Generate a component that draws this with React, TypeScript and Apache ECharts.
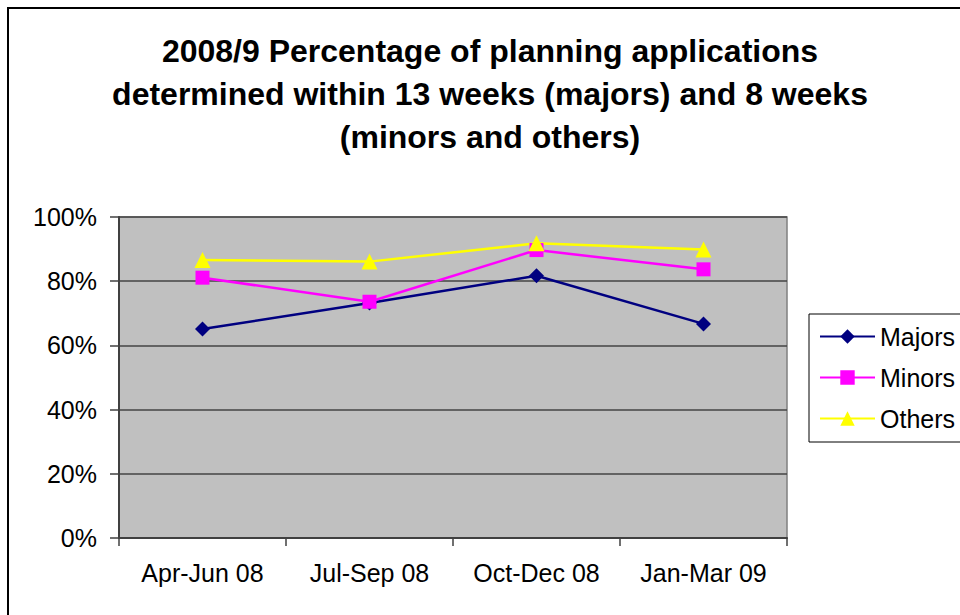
import React, { useEffect, useRef } from "react";
import * as echarts from "echarts";

const categories = ["Apr-Jun 08", "Jul-Sep 08", "Oct-Dec 08", "Jan-Mar 09"];
const majors = [0.651, 0.732, 0.817, 0.667];
const minors = [0.811, 0.736, 0.897, 0.837];
const others = [0.866, 0.861, 0.918, 0.899];
const yTicks = [0, 0.2, 0.4, 0.6, 0.8, 1.0];
const titleText =
  "2008/9 Percentage of planning applications\ndetermined within 13 weeks (majors) and 8 weeks\n(minors and others)";

const FONT = "'Liberation Sans', Arial, sans-serif";

export default function App() {
  const ref = useRef<HTMLDivElement>(null);
  useEffect(() => {
    if (!ref.current) return;
    const chart = echarts.init(ref.current, null, { renderer: "svg" });
    chart.setOption({
      animation: false,
      backgroundColor: "#ffffff",
      textStyle: { fontFamily: FONT },
      graphic: [
        {
          type: "rect",
          shape: { x: 8, y: 8, width: 1000, height: 700 },
          style: { fill: "none", stroke: "#000000", lineWidth: 2 },
          z: 0,
        },
        {
          type: "text",
          x: 490,
          y: 29,
          style: {
            text: titleText,
            font: `bold 32px ${FONT}`,
            fill: "#000000",
            textAlign: "center",
            lineHeight: 43,
          },
        },
        {
          type: "rect",
          shape: { x: 809, y: 314, width: 200, height: 128 },
          style: { fill: "#ffffff", stroke: "#000000", lineWidth: 1 },
          z: 1,
        },
      ],
      grid: {
        left: 119,
        top: 217,
        right: 173,
        bottom: 77,
        show: true,
        backgroundColor: "#c0c0c0",
        borderColor: "#808080",
        borderWidth: 1.5,
      },
      legend: {
        orient: "vertical",
        left: 814,
        top: 319,
        itemWidth: 55,
        itemHeight: 18,
        itemGap: 16,
        textStyle: { fontFamily: FONT, fontSize: 25, color: "#000000" },
        data: ["Majors", "Minors", "Others"],
        z: 5,
      },
      xAxis: {
        type: "category",
        data: categories,
        boundaryGap: true,
        axisLine: { lineStyle: { color: "#404040", width: 2 } },
        axisTick: { show: true, length: 8, lineStyle: { color: "#404040", width: 1.5 } },
        axisLabel: { fontFamily: FONT, fontSize: 25, color: "#000000", margin: 22 },
      },
      yAxis: {
        type: "value",
        min: 0,
        max: 1,
        interval: 0.2,
        axisLine: { show: true, lineStyle: { color: "#404040", width: 2 } },
        axisTick: { show: true, length: 9, lineStyle: { color: "#404040", width: 1.5 } },
        splitLine: { show: true, lineStyle: { color: "#444444", width: 1.5 } },
        axisLabel: {
          fontFamily: FONT,
          fontSize: 25,
          color: "#000000",
          margin: 22,
          formatter: (v: number) => {
            const t = yTicks.find((x) => Math.abs(x - v) < 1e-6);
            return Math.round((t ?? v) * 100) + "%";
          },
        },
      },
      series: [
        {
          name: "Majors",
          type: "line",
          data: majors,
          symbol: "diamond",
          symbolSize: 15,
          itemStyle: { color: "#000080" },
          lineStyle: { color: "#000080", width: 2.5 },
        },
        {
          name: "Minors",
          type: "line",
          data: minors,
          symbol: "rect",
          symbolSize: 14,
          itemStyle: { color: "#ff00ff" },
          lineStyle: { color: "#ff00ff", width: 2.5 },
        },
        {
          name: "Others",
          type: "line",
          data: others,
          symbol: "triangle",
          symbolSize: 16,
          itemStyle: { color: "#ffff00" },
          lineStyle: { color: "#ffff00", width: 2.5 },
        },
      ],
    });
    return () => chart.dispose();
  }, []);
  return (
    <div
      ref={ref}
      style={{ position: "absolute", left: 0, top: 0, width: 960, height: 615 }}
    />
  );
}
